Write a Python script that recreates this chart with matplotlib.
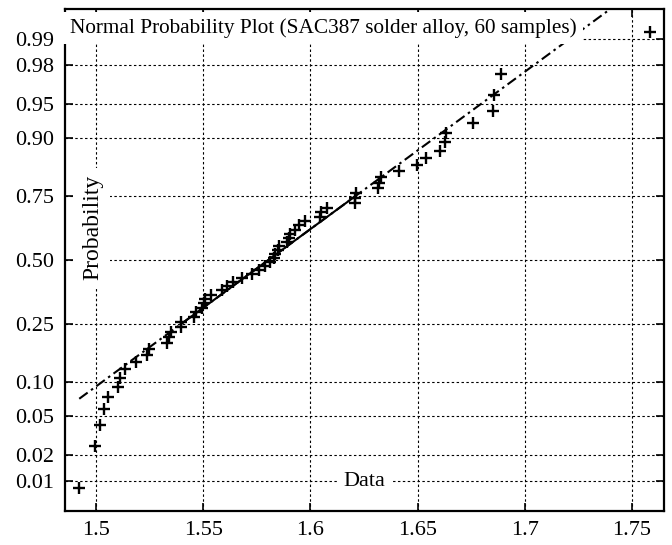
import numpy as np
import matplotlib
matplotlib.use('Agg')
import matplotlib.pyplot as plt
from statistics import NormalDist

# 60 solder samples (sorted)
data = [1.4922, 1.4997, 1.5020, 1.5039, 1.5054, 1.5105, 1.5112, 1.5135, 1.5186, 1.5236,
        1.5245, 1.5333, 1.5341, 1.5352, 1.5395, 1.5397, 1.5457, 1.5465, 1.5496, 1.5503,
        1.5507, 1.5538, 1.5590, 1.5609, 1.5641, 1.5682, 1.5728, 1.5759, 1.5790, 1.5813,
        1.5829, 1.5836, 1.5847, 1.5852, 1.5892, 1.5898, 1.5903, 1.5929, 1.5945, 1.5976,
        1.6046, 1.6048, 1.6077, 1.6208, 1.6210, 1.6213, 1.6316, 1.6321, 1.6328, 1.6414,
        1.6498, 1.6541, 1.6603, 1.6626, 1.6634, 1.6758, 1.6851, 1.6855, 1.6890, 1.7582]

prob_ticks = [0.01, 0.02, 0.05, 0.10, 0.25, 0.50, 0.75, 0.90, 0.95, 0.98, 0.99]
prob_labels = ['0.01', '0.02', '0.05', '0.10', '0.25', '0.50', '0.75', '0.90', '0.95', '0.98', '0.99']
x_ticks = [1.5, 1.55, 1.6, 1.65, 1.7, 1.75]
x_labels = ['1.5', '1.55', '1.6', '1.65', '1.7', '1.75']

title_txt = 'Normal Probability Plot (SAC387 solder alloy, 60 samples)'

plt.rcParams['font.family'] = ['Liberation Serif', 'DejaVu Serif']

nd = NormalDist()
x = np.sort(np.array(data))
n = len(x)
z = np.array([nd.inv_cdf((i - 0.5) / n) for i in range(1, n + 1)])

# reference line through the quartiles (like normplot)
q1 = np.percentile(x, 25, method='hazen')
q3 = np.percentile(x, 75, method='hazen')
zq1, zq3 = nd.inv_cdf(0.25), nd.inv_cdf(0.75)
slope = (zq3 - zq1) / (q3 - q1)
def ref(v):
    return zq1 + (v - q1) * slope

fig = plt.figure(figsize=(6.72, 5.45), dpi=100)
ax = fig.add_axes([0.0967, 0.0624, 0.8913, 0.9211])

# grid
gkw = dict(color='black', lw=0.8, ls=(0, (2.2, 2.2)), zorder=1)
for t in x_ticks:
    ax.axvline(t, **gkw)
for p in prob_ticks:
    ax.axhline(nd.inv_cdf(p), **gkw)

xe = np.array([x.min(), x.max()])
ax.plot(xe, ref(xe), color='black', lw=1.5, ls=(0, (5, 2, 1.2, 2)), zorder=3)
xs = np.array([q1, q3])
ax.plot(xs, ref(xs), color='black', lw=1.5, ls='-', zorder=3)
ax.plot(x, z, '+', color='black', ms=8, mew=1.7, zorder=4)

rng = x.max() - x.min()
ax.set_xlim(x.min() - 0.025 * rng, x.max() + 0.025 * rng)
zlim = -nd.inv_cdf(0.25 / n)
ax.set_ylim(-zlim, zlim)

ax.set_xticks(x_ticks)
ax.set_xticklabels(x_labels)
ax.set_yticks([nd.inv_cdf(p) for p in prob_ticks])
ax.set_yticklabels(prob_labels)
ax.tick_params(direction='in', top=True, right=True, length=6, width=1.2,
               labelsize=16)
ax.tick_params(axis='y', pad=8)
ax.tick_params(axis='x', pad=7)
for s in ax.spines.values():
    s.set_linewidth(1.6)

box = dict(facecolor='white', edgecolor='none', boxstyle='square,pad=0.3')
ax.text(0.008, 0.962, title_txt, transform=ax.transAxes, fontsize=15.3,
        ha='left', va='center', bbox=box, zorder=6)
ax.text(0.5, 0.058, 'Data', transform=ax.transAxes, fontsize=16,
        ha='center', va='center', bbox=box, zorder=6)
ax.text(0.046, 0.564, 'Probability', transform=ax.transAxes, fontsize=17,
        ha='center', va='center', rotation=90, bbox=box, zorder=6)

fig.savefig('out.png', dpi=100)
